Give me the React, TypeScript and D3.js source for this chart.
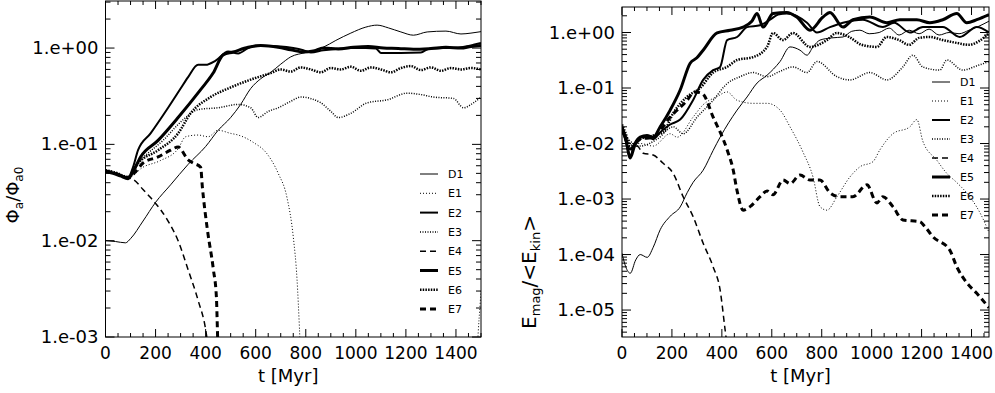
import React from 'react';
import * as d3 from 'd3';

type Pt = [number, number];

// tick labels
const timeTicks = [0, 200, 400, 600, 800, 1000, 1200, 1400];
const phiTickValues = [1, 1e-1, 1e-2, 1e-3];
const phiTickLabels = ['1.e+00', '1.e-01', '1.e-02', '1.e-03'];
const emagTickValues = [1, 1e-1, 1e-2, 1e-3, 1e-4, 1e-5];
const emagTickLabels = ['1.e+00', '1.e-01', '1.e-02', '1.e-03', '1.e-04', '1.e-05'];
const runs = ['D1', 'E1', 'E2', 'E3', 'E4', 'E5', 'E6', 'E7'];

// left panel: Phi_a / Phi_a0  [t in Myr, value]
const phiD1: Pt[] = [[0,0.0100],[40,0.0098],[80,0.0095],[100,0.0105],[150,0.016],[200,0.025],[260,0.038],[330,0.062],[400,0.095],[450,0.14],[500,0.19],[540,0.26],[580,0.38],[620,0.48],[660,0.56],[700,0.68],[740,0.81],[800,0.9],[870,1.02],[920,1.2],[980,1.43],[1040,1.65],[1085,1.73],[1130,1.62],[1180,1.47],[1230,1.36],[1285,1.47],[1360,1.5],[1420,1.4],[1460,1.43],[1500,1.48]];
const phiE1: Pt[] = [[0,0.052],[40,0.049],[90,0.045],[150,0.058],[220,0.068],[290,0.09],[320,0.12],[370,0.125],[410,0.12],[450,0.14],[500,0.13],[530,0.125],[590,0.105],[645,0.08],[690,0.05],[725,0.028],[750,0.011],[765,0.004],[775,0.0012],[780,0.0006],[1480,0.0006],[1492,0.0015],[1500,0.003]];
const phiE2: Pt[] = [[0,0.053],[30,0.051],[60,0.048],[90,0.045],[110,0.058],[130,0.087],[180,0.13],[250,0.24],[300,0.38],[330,0.5],[370,0.67],[400,0.67],[440,0.74],[490,0.92],[530,0.88],[570,1.0],[600,1.06],[650,1.05],[700,1.04],[750,1.0],[790,0.95],[820,0.9],[870,0.95],[920,0.98],[980,1.0],[1040,1.0],[1080,0.99],[1100,0.89],[1180,0.89],[1260,0.9],[1290,0.98],[1350,1.0],[1420,1.02],[1470,1.08],[1500,1.13]];
const phiE3: Pt[] = [[0,0.053],[40,0.050],[90,0.046],[140,0.068],[230,0.11],[310,0.18],[370,0.23],[450,0.24],[530,0.26],[580,0.24],[610,0.19],[650,0.22],[690,0.24],[740,0.28],[780,0.31],[860,0.27],[900,0.22],[930,0.19],[980,0.21],[1045,0.27],[1125,0.29],[1205,0.34],[1256,0.33],[1310,0.31],[1390,0.30],[1430,0.24],[1470,0.27],[1500,0.31]];
const phiE4: Pt[] = [[0,0.052],[40,0.049],[90,0.045],[112,0.043],[150,0.034],[180,0.028],[220,0.021],[250,0.016],[290,0.01],[330,0.005],[370,0.0024],[400,0.0012],[410,0.0008]];
const phiE5: Pt[] = [[0,0.052],[30,0.050],[60,0.047],[90,0.044],[110,0.052],[140,0.074],[210,0.11],[290,0.19],[380,0.37],[430,0.55],[470,0.85],[510,0.91],[570,1.02],[620,1.06],[690,1.02],[740,0.96],[790,0.91],[830,0.93],[870,1.0],[930,0.98],[990,1.02],[1050,1.04],[1110,1.0],[1170,0.99],[1230,0.97],[1300,0.99],[1360,1.02],[1420,1.0],[1460,1.04],[1500,1.06]];
const phiE6: Pt[] = [[0,0.054],[40,0.051],[90,0.046],[130,0.064],[210,0.087],[290,0.13],[340,0.21],[420,0.31],[500,0.39],[580,0.47],[660,0.55],[700,0.6],[740,0.57],[780,0.63],[820,0.6],[860,0.56],[900,0.62],[940,0.6],[980,0.64],[1020,0.58],[1060,0.63],[1100,0.6],[1140,0.56],[1180,0.62],[1220,0.65],[1260,0.59],[1300,0.63],[1340,0.58],[1380,0.62],[1420,0.6],[1460,0.62],[1500,0.6]];
const phiE7: Pt[] = [[0,0.053],[40,0.05],[90,0.045],[120,0.052],[150,0.064],[210,0.074],[260,0.087],[290,0.094],[330,0.069],[350,0.064],[380,0.058],[387,0.036],[407,0.013],[431,0.005],[443,0.0026],[447,0.0012],[450,0.0006]];

// right panel: E_mag / <E_kin>
const emagD1: Pt[] = [[0,1.05e-4],[15,6e-5],[33,4.6e-5],[55,8e-5],[73,1.0e-4],[101,8.9e-5],[125,1.35e-4],[153,2.8e-4],[193,4.9e-4],[233,7.2e-4],[261,1.3e-3],[285,2.0e-3],[325,3.3e-3],[365,7.5e-3],[393,0.013],[461,0.04],[501,0.069],[541,0.123],[581,0.17],[633,0.3],[673,0.55],[713,0.48],[741,0.39],[765,0.55],[793,0.73],[840,0.8],[885,0.83],[920,1.05],[953,1.1],[990,0.95],[1030,1.0],[1070,1.2],[1110,0.9],[1150,1.1],[1190,0.95],[1230,1.15],[1270,0.9],[1310,1.0],[1350,0.95],[1390,1.1],[1430,1.3],[1470,1.6]];
const emagE1: Pt[] = [[0,0.02],[15,0.013],[33,0.01],[73,0.01],[125,0.009],[193,0.015],[221,0.013],[285,0.03],[325,0.05],[381,0.07],[421,0.085],[461,0.06],[525,0.053],[581,0.053],[633,0.04],[673,0.02],[725,0.007],[765,0.0025],[793,7.3e-4],[821,6.3e-4],[861,1.1e-3],[913,2.5e-3],[953,3.8e-3],[1005,4.7e-3],[1033,7.7e-3],[1085,0.015],[1153,0.02],[1181,0.027],[1205,0.011],[1261,0.005],[1301,0.0029],[1340,0.002],[1400,0.001],[1440,5e-4],[1470,2.5e-4]];
const emagE2: Pt[] = [[0,0.018],[15,0.011],[33,0.006],[50,0.01],[73,0.013],[100,0.013],[125,0.012],[153,0.016],[193,0.022],[233,0.027],[285,0.061],[325,0.14],[365,0.21],[393,0.24],[421,0.73],[461,0.83],[501,1.25],[553,1.35],[593,1.7],[625,2.1],[660,2.2],[741,1.5],[781,1.0],[833,1.25],[885,1.5],[965,1.7],[1045,1.25],[1090,1.5],[1153,1.0],[1205,1.25],[1285,1.25],[1353,0.83],[1421,1.25],[1470,1.0]];
const emagE3: Pt[] = [[0,0.02],[15,0.014],[33,0.011],[73,0.009],[141,0.012],[205,0.02],[245,0.015],[301,0.03],[365,0.06],[421,0.12],[473,0.16],[525,0.19],[581,0.16],[633,0.2],[685,0.24],[741,0.19],[781,0.3],[861,0.16],[913,0.14],[993,0.19],[1061,0.14],[1125,0.24],[1165,0.39],[1205,0.24],[1273,0.21],[1301,0.32],[1365,0.21],[1420,0.25],[1470,0.3]];
const emagE4: Pt[] = [[0,0.02],[15,0.012],[33,0.008],[60,0.009],[85,0.0067],[125,0.0062],[165,0.0044],[205,0.0029],[245,0.0011],[285,4.8e-4],[325,1.6e-4],[365,6e-5],[393,2.3e-5],[413,4.4e-6],[420,2.5e-6]];
const emagE5: Pt[] = [[0,0.02],[15,0.012],[33,0.0055],[50,0.009],[73,0.013],[100,0.014],[125,0.013],[153,0.02],[193,0.04],[233,0.092],[273,0.28],[300,0.35],[325,0.48],[381,0.98],[433,1.1],[485,1.25],[520,1.6],[541,2.2],[565,1.25],[605,2.2],[660,2.3],[700,1.9],[753,1.1],[805,1.9],[833,2.3],[885,1.25],[925,1.7],[993,1.9],[1061,1.5],[1113,1.7],[1181,1.7],[1233,1.5],[1285,1.7],[1341,2.2],[1381,1.5],[1421,1.7],[1470,2.1]];
const emagE6: Pt[] = [[0,0.022],[15,0.015],[33,0.009],[73,0.012],[125,0.014],[165,0.016],[205,0.035],[261,0.07],[313,0.1],[365,0.19],[421,0.24],[461,0.32],[525,0.36],[581,0.55],[605,0.98],[645,0.73],[685,0.98],[753,0.55],[821,0.73],[860,0.98],[910,0.83],[960,0.6],[1021,0.55],[1060,0.83],[1110,0.73],[1150,0.6],[1190,0.8],[1233,0.83],[1285,0.73],[1340,0.65],[1390,0.6],[1430,0.7],[1470,0.98]];
const emagE7: Pt[] = [[0,0.018],[15,0.012],[33,0.008],[73,0.012],[125,0.013],[193,0.03],[261,0.06],[290,0.085],[321,0.08],[365,0.03],[421,0.0077],[445,0.0034],[461,0.0014],[485,6.3e-4],[513,7.3e-4],[553,1.1e-3],[581,1.4e-3],[605,1.2e-3],[645,2.2e-3],[673,1.9e-3],[713,2.7e-3],[753,2.2e-3],[793,2.2e-3],[833,1.3e-3],[873,1.1e-3],[925,1.1e-3],[981,1.8e-3],[1021,8.5e-4],[1045,1.1e-3],[1085,7.3e-4],[1125,4.2e-4],[1193,3.9e-4],[1213,3.2e-4],[1245,2.1e-4],[1313,1.2e-4],[1341,6e-5],[1381,3.1e-5],[1421,2e-5],[1470,1.1e-5]];

const phiSeries = [phiD1, phiE1, phiE2, phiE3, phiE4, phiE5, phiE6, phiE7];
const emagSeries = [emagD1, emagE1, emagE2, emagE3, emagE4, emagE5, emagE6, emagE7];

const lineStyle: Record<string, { w: number; dash?: string }> = {
  D1: { w: 1 },
  E1: { w: 1, dash: '1 2' },
  E2: { w: 2 },
  E3: { w: 1.5, dash: '1 1.5' },
  E4: { w: 1.5, dash: '6 4' },
  E5: { w: 3 },
  E6: { w: 2.5, dash: '1.5 1.2' },
  E7: { w: 3, dash: '6 4' },
};

const FONT = 'DejaVu Sans';

function Panel(props: {
  id: string; left: number; right: number; top: number; bottom: number;
  tMax: number; yDomain: [number, number];
  tickValues: number[]; tickLabels: string[];
  series: Pt[][]; legendX: number; legendY: number; legendStep: number;
  ylabel: React.ReactNode;
}) {
  const { id, left, right, top, bottom, tMax, yDomain, tickValues, tickLabels, series } = props;
  const x = d3.scaleLinear().domain([0, tMax]).range([left, right]);
  const y = d3.scaleLog().domain(yDomain).range([bottom, top]);
  const line = d3.line<Pt>().x(d => x(d[0])).y(d => y(d[1])).curve(d3.curveMonotoneX);

  const minor: number[] = [];
  const e0 = Math.floor(Math.log10(yDomain[0]));
  const e1 = Math.ceil(Math.log10(yDomain[1]));
  for (let e = e0; e <= e1; e++) {
    for (let k = 2; k <= 9; k++) {
      const v = k * Math.pow(10, e);
      if (v > yDomain[0] && v < yDomain[1]) minor.push(v);
    }
  }
  const xMinor = d3.range(0, tMax + 1, 50).filter(t => t % 200 !== 0);

  return (
    <g>
      <defs>
        <clipPath id={id}>
          <rect x={left} y={top} width={right - left} height={bottom - top} />
        </clipPath>
      </defs>
      <g clipPath={`url(#${id})`}>
        {series.map((s, i) => {
          const st = lineStyle[runs[i]];
          return (
            <path key={i} d={line(s) || ''} fill="none" stroke="#000"
              strokeWidth={st.w} strokeDasharray={st.dash} />
          );
        })}
      </g>
      <rect x={left} y={top} width={right - left} height={bottom - top}
        fill="none" stroke="#000" strokeWidth={1} />
      {tickValues.map(v => (
        <g key={v}>
          <line x1={left} x2={left + 9} y1={y(v)} y2={y(v)} stroke="#000" />
          <line x1={right} x2={right - 9} y1={y(v)} y2={y(v)} stroke="#000" />
        </g>
      ))}
      {minor.map(v => (
        <g key={v}>
          <line x1={left} x2={left + 5} y1={y(v)} y2={y(v)} stroke="#000" />
          <line x1={right} x2={right - 5} y1={y(v)} y2={y(v)} stroke="#000" />
        </g>
      ))}
      {timeTicks.map(t => (
        <g key={t}>
          <line x1={x(t)} x2={x(t)} y1={bottom} y2={bottom - 8} stroke="#000" />
          <line x1={x(t)} x2={x(t)} y1={top} y2={top + 8} stroke="#000" />
          <text x={x(t)} y={bottom + 22} textAnchor="middle" fontSize={17} fontFamily={FONT}>{t}</text>
        </g>
      ))}
      {xMinor.map(t => (
        <g key={t}>
          <line x1={x(t)} x2={x(t)} y1={bottom} y2={bottom - 4} stroke="#000" />
          <line x1={x(t)} x2={x(t)} y1={top} y2={top + 4} stroke="#000" />
        </g>
      ))}
      {tickValues.map((v, i) => (
        <text key={v} x={left - 7} y={y(v) + 6} textAnchor="end" fontSize={18} fontFamily={FONT}>
          {tickLabels[i]}
        </text>
      ))}
      <text x={(left + right) / 2 - 5} y={bottom + 45} textAnchor="middle" fontSize={18} fontFamily={FONT}>
        t [Myr]
      </text>
      {props.ylabel}
      {runs.map((r, i) => {
        const st = lineStyle[r];
        const ly = props.legendY + i * props.legendStep;
        return (
          <g key={r}>
            <line x1={props.legendX} x2={props.legendX + 18} y1={ly} y2={ly} stroke="#000"
              strokeWidth={st.w} strokeDasharray={st.dash} />
            <text x={props.legendX + 28} y={ly + 4} fontSize={11} fontFamily={FONT}>{r}</text>
          </g>
        );
      })}
    </g>
  );
}

export default function App() {
  return (
    <svg width={995} height={393} style={{ position: 'absolute', left: 0, top: 0, background: '#fff' }}>
      <Panel id="clipL" left={105.5} right={481} top={1} bottom={337} tMax={1500}
        yDomain={[1e-3, 3.08]} tickValues={phiTickValues} tickLabels={phiTickLabels}
        series={phiSeries} legendX={420} legendY={174} legendStep={19.3}
        ylabel={
          <text transform="translate(19,195) rotate(-90)" textAnchor="middle" fontSize={18} fontFamily={FONT}>
            Φ<tspan fontSize={12} dy={4}>a</tspan><tspan dy={-4}>/Φ</tspan><tspan fontSize={12} dy={4}>a0</tspan>
          </text>
        } />
      <Panel id="clipR" left={622} right={989} top={7} bottom={337} tMax={1470}
        yDomain={[3.27e-6, 2.88]} tickValues={emagTickValues} tickLabels={emagTickLabels}
        series={emagSeries} legendX={932} legendY={82} legendStep={19}
        ylabel={
          <text transform="translate(536,272) rotate(-90)" textAnchor="middle" fontSize={20} fontFamily={FONT}>
            E<tspan fontSize={13} dy={4}>mag</tspan><tspan dy={-4}>/&lt;E</tspan><tspan fontSize={13} dy={4}>kin</tspan><tspan dy={-4}>&gt;</tspan>
          </text>
        } />
    </svg>
  );
}
